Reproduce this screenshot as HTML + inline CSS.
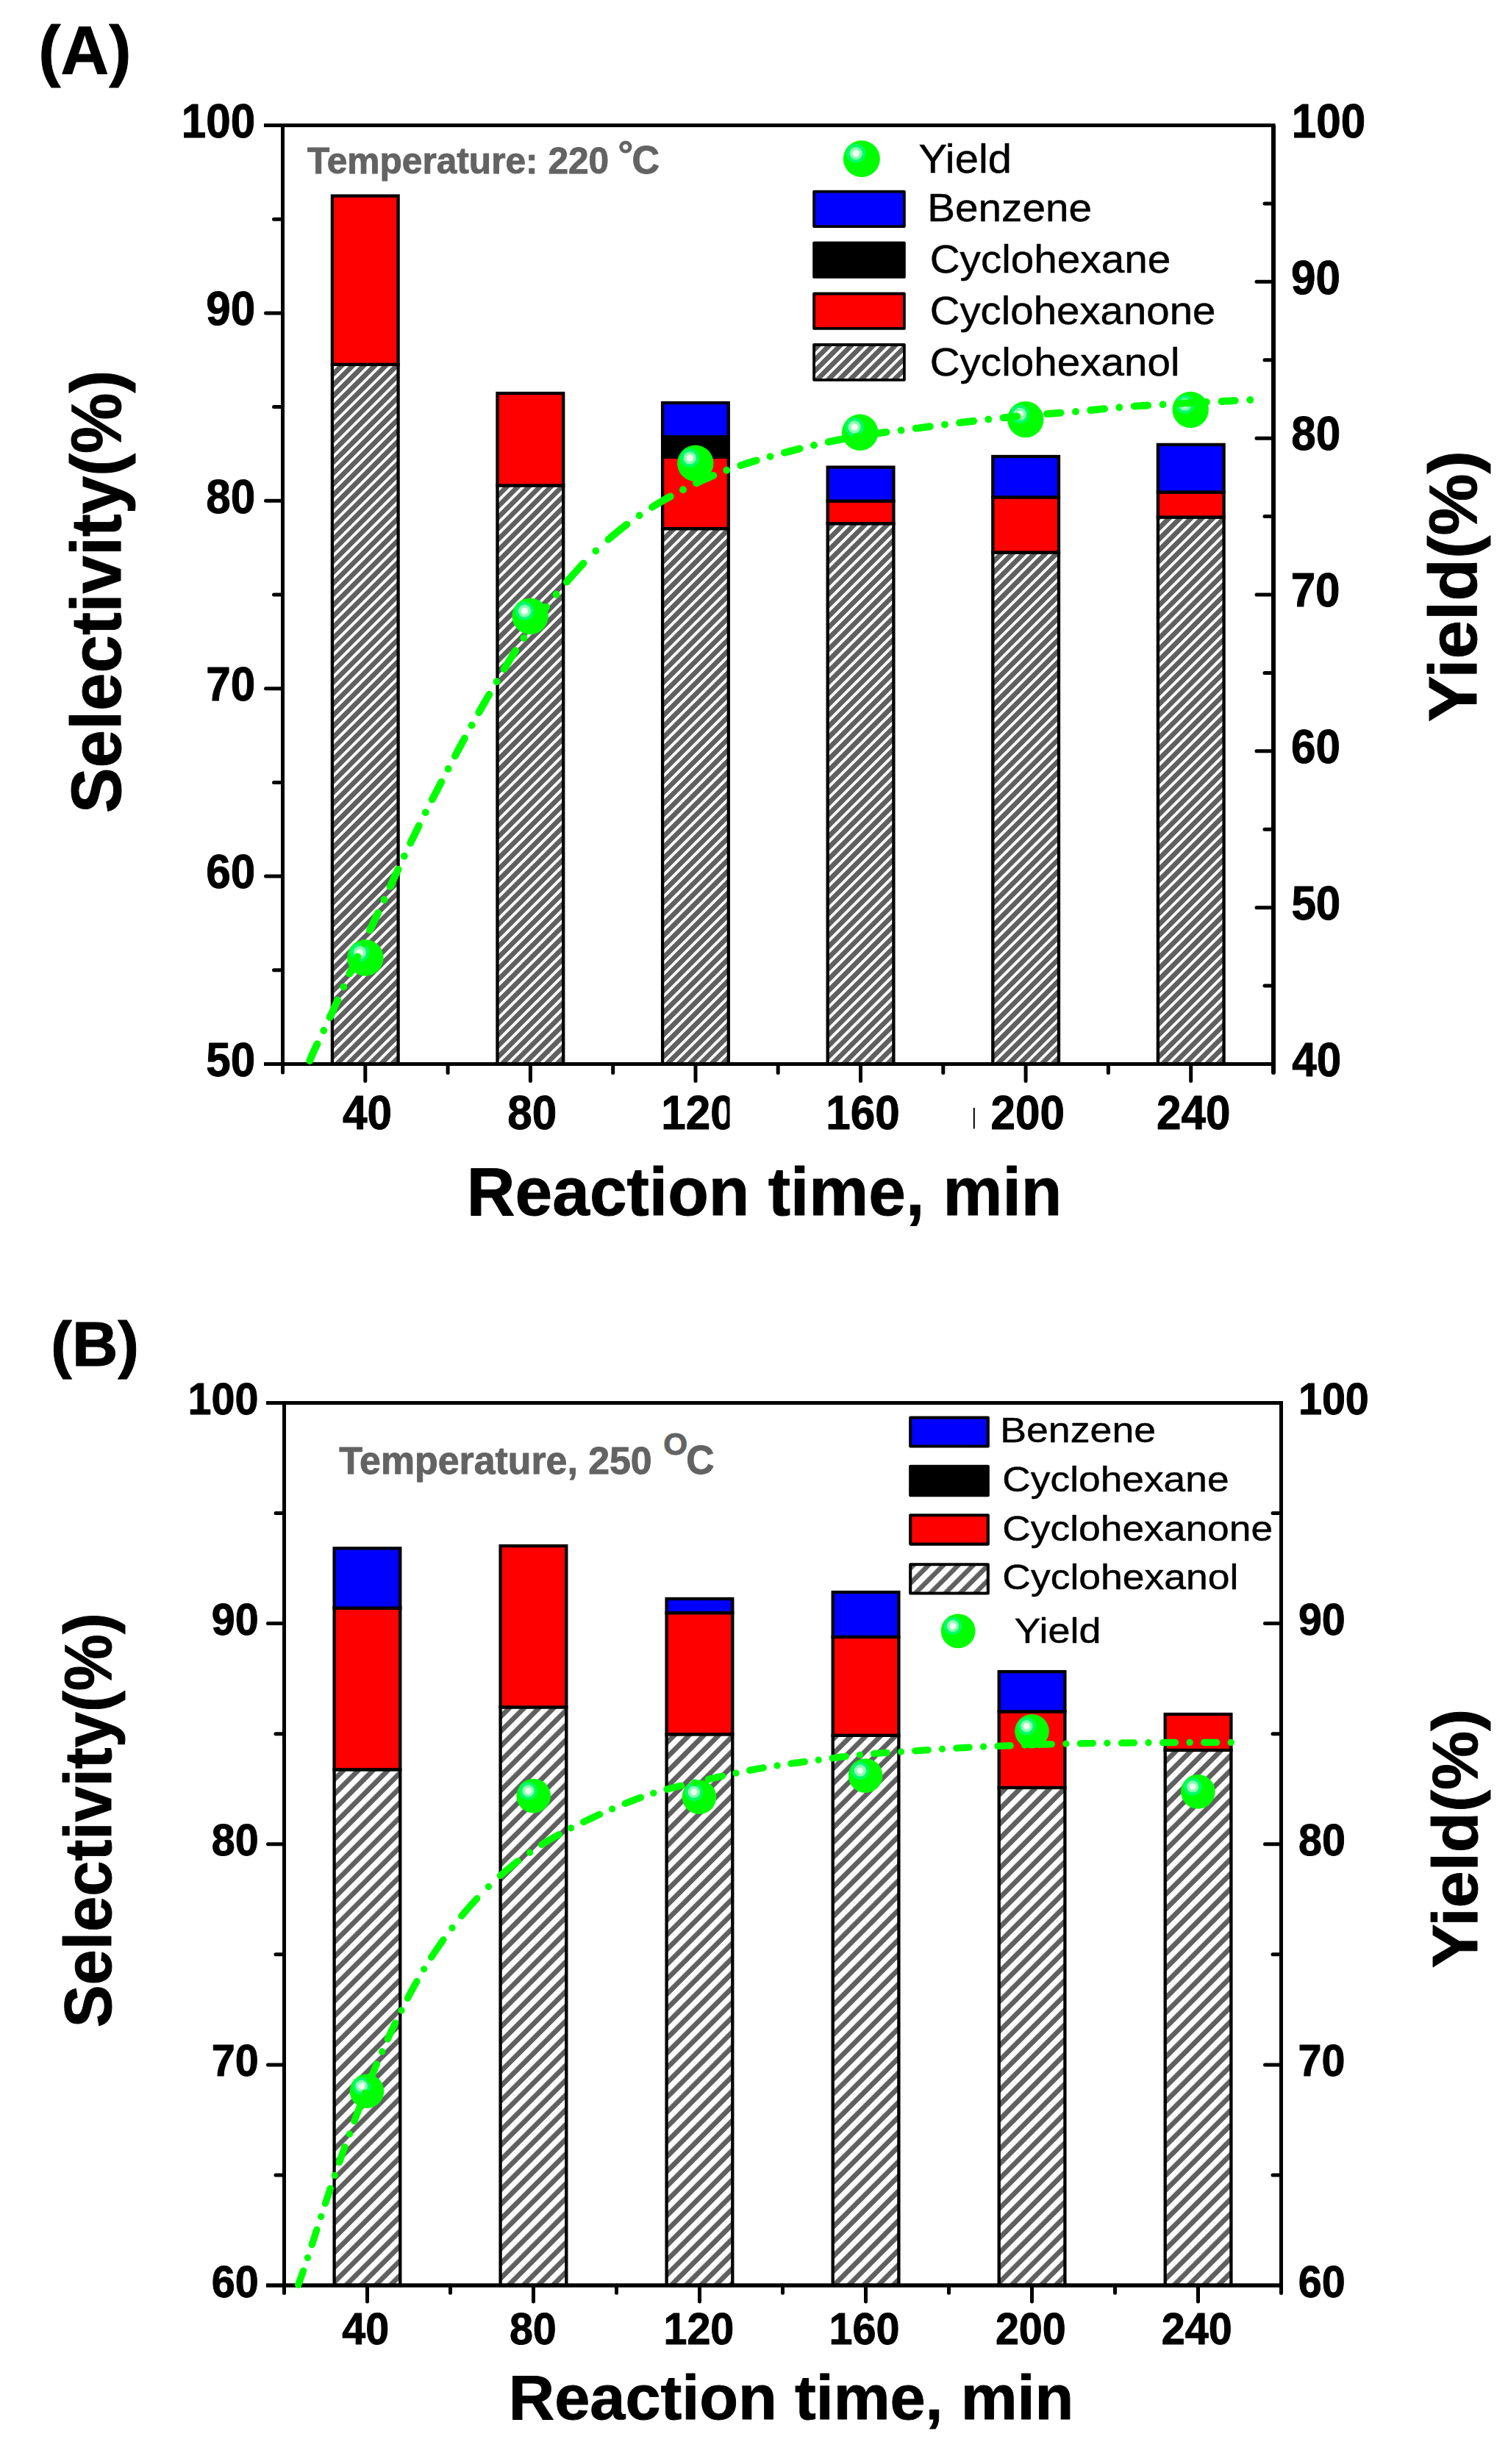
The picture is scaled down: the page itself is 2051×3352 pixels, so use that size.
<!DOCTYPE html>
<html><head><meta charset="utf-8"><title>Selectivity and yield vs reaction time</title>
<style>html,body{margin:0;padding:0;background:#fff}svg{display:block}</style></head>
<body>
<svg width="2051" height="3352" viewBox="0 0 2051 3352" font-family="Liberation Sans, Arial, sans-serif">
<rect width="2051" height="3352" fill="#fff"/>
<defs>
<pattern id="hatchA" patternUnits="userSpaceOnUse" width="10.589" height="10.589" patternTransform="translate(8.5,0) rotate(-45)"><rect width="10.589" height="10.589" fill="#606060"/><rect y="0" width="10.589" height="3.812" fill="#fff"/></pattern>
<pattern id="hatchB" patternUnits="userSpaceOnUse" width="14.220" height="14.220" patternTransform="translate(4.55,0) rotate(-45)"><rect width="14.220" height="14.220" fill="#606060"/><rect y="0" width="14.220" height="7.394" fill="#fff"/></pattern>
<pattern id="hatchAL" patternUnits="userSpaceOnUse" width="10.589" height="10.589" patternTransform="translate(0.3,0) rotate(-45)"><rect width="10.589" height="10.589" fill="#606060"/><rect y="0" width="10.589" height="3.812" fill="#fff"/></pattern>
<pattern id="hatchBL" patternUnits="userSpaceOnUse" width="14.354" height="14.354" patternTransform="translate(6.57,0) rotate(-45)"><rect width="14.354" height="14.354" fill="#606060"/><rect y="0" width="14.354" height="7.895" fill="#fff"/></pattern>
</defs>
<clipPath id="clipA"><rect x="384.5" y="170.5" width="1347.5" height="1277.0"/></clipPath>
<rect x="451.9" y="495.9" width="89.7" height="951.6" fill="#fff"/>
<rect x="451.9" y="495.9" width="89.7" height="951.6" fill="url(#hatchA)" stroke="#000" stroke-width="4.3" stroke-linejoin="miter"/>
<rect x="451.9" y="266.5" width="89.7" height="229.3" fill="#ff0000" stroke="#000" stroke-width="4.3" stroke-linejoin="miter"/>
<rect x="676.5" y="660.4" width="89.7" height="787.1" fill="#fff"/>
<rect x="676.5" y="660.4" width="89.7" height="787.1" fill="url(#hatchA)" stroke="#000" stroke-width="4.3" stroke-linejoin="miter"/>
<rect x="676.5" y="535.0" width="89.7" height="125.4" fill="#ff0000" stroke="#000" stroke-width="4.3" stroke-linejoin="miter"/>
<rect x="901.1" y="719.1" width="89.7" height="728.4" fill="#fff"/>
<rect x="901.1" y="719.1" width="89.7" height="728.4" fill="url(#hatchA)" stroke="#000" stroke-width="4.3" stroke-linejoin="miter"/>
<rect x="901.1" y="621.8" width="89.7" height="97.3" fill="#ff0000" stroke="#000" stroke-width="4.3" stroke-linejoin="miter"/>
<rect x="901.1" y="594.2" width="89.7" height="27.6" fill="#000000" stroke="#000" stroke-width="4.3" stroke-linejoin="miter"/>
<rect x="901.1" y="548.0" width="89.7" height="46.2" fill="#0000ff" stroke="#000" stroke-width="4.3" stroke-linejoin="miter"/>
<rect x="1125.7" y="712.2" width="89.7" height="735.3" fill="#fff"/>
<rect x="1125.7" y="712.2" width="89.7" height="735.3" fill="url(#hatchA)" stroke="#000" stroke-width="4.3" stroke-linejoin="miter"/>
<rect x="1125.7" y="681.6" width="89.7" height="30.6" fill="#ff0000" stroke="#000" stroke-width="4.3" stroke-linejoin="miter"/>
<rect x="1125.7" y="635.6" width="89.7" height="46.0" fill="#0000ff" stroke="#000" stroke-width="4.3" stroke-linejoin="miter"/>
<rect x="1350.3" y="751.5" width="89.7" height="696.0" fill="#fff"/>
<rect x="1350.3" y="751.5" width="89.7" height="696.0" fill="url(#hatchA)" stroke="#000" stroke-width="4.3" stroke-linejoin="miter"/>
<rect x="1350.3" y="676.4" width="89.7" height="75.1" fill="#ff0000" stroke="#000" stroke-width="4.3" stroke-linejoin="miter"/>
<rect x="1350.3" y="621.0" width="89.7" height="55.4" fill="#0000ff" stroke="#000" stroke-width="4.3" stroke-linejoin="miter"/>
<rect x="1574.9" y="703.5" width="89.7" height="744.0" fill="#fff"/>
<rect x="1574.9" y="703.5" width="89.7" height="744.0" fill="url(#hatchA)" stroke="#000" stroke-width="4.3" stroke-linejoin="miter"/>
<rect x="1574.9" y="669.6" width="89.7" height="34.0" fill="#ff0000" stroke="#000" stroke-width="4.3" stroke-linejoin="miter"/>
<rect x="1574.9" y="604.9" width="89.7" height="64.6" fill="#0000ff" stroke="#000" stroke-width="4.3" stroke-linejoin="miter"/>
<g stroke="#000" stroke-width="5" stroke-linecap="butt" fill="none">
<path d="M359.0 170.5H1734.5"/>
<path d="M359.0 1447.5H1734.5" stroke-width="5"/>
</g>
<path d="M384.5 170.5V1447.5" stroke="#000" stroke-width="5" fill="none"/>
<path d="M384.5 1447.5V1459.0" stroke="#000" stroke-width="5" stroke-linecap="round" fill="none"/>
<path d="M1732 170.5V1447.5" stroke="#000" stroke-width="6" fill="none"/>
<path d="M1732 1447.5V1459.0" stroke="#000" stroke-width="6" stroke-linecap="round" fill="none"/>
<g stroke="#000" stroke-width="5" stroke-linecap="round" fill="none">
<path d="M372.5 1319.8H384.5"/>
<path d="M361.5 1192.1H384.5"/>
<path d="M372.5 1064.4H384.5"/>
<path d="M361.5 936.7H384.5"/>
<path d="M372.5 809.0H384.5"/>
<path d="M361.5 681.3H384.5"/>
<path d="M372.5 553.6H384.5"/>
<path d="M361.5 425.9H384.5"/>
<path d="M372.5 298.2H384.5"/>
<path d="M1720.0 1341.1H1732.0"/>
<path d="M1709.0 1234.7H1732.0"/>
<path d="M1720.0 1128.2H1732.0"/>
<path d="M1709.0 1021.8H1732.0"/>
<path d="M1720.0 915.4H1732.0"/>
<path d="M1709.0 809.0H1732.0"/>
<path d="M1720.0 702.6H1732.0"/>
<path d="M1709.0 596.2H1732.0"/>
<path d="M1720.0 489.8H1732.0"/>
<path d="M1709.0 383.3H1732.0"/>
<path d="M1720.0 276.9H1732.0"/>
<path d="M496.8 1447.5V1470.5"/>
<path d="M609.1 1447.5V1459.5"/>
<path d="M721.4 1447.5V1470.5"/>
<path d="M833.7 1447.5V1459.5"/>
<path d="M946.0 1447.5V1470.5"/>
<path d="M1058.2 1447.5V1459.5"/>
<path d="M1170.5 1447.5V1470.5"/>
<path d="M1282.8 1447.5V1459.5"/>
<path d="M1395.1 1447.5V1470.5"/>
<path d="M1507.4 1447.5V1459.5"/>
<path d="M1619.7 1447.5V1470.5"/>
</g>
<circle cx="496.9" cy="1303.0" r="24.7" fill="#00ff00"/>
<circle cx="489.3" cy="1295.7" r="12.9" fill="#00ff66"/>
<circle cx="489.3" cy="1295.7" r="8.6" fill="#8cffb4"/>
<circle cx="489.3" cy="1295.7" r="4.6" fill="#f4fff4"/>
<circle cx="721.1" cy="838.4" r="24.7" fill="#00ff00"/>
<circle cx="713.5" cy="831.1" r="12.9" fill="#00ff66"/>
<circle cx="713.5" cy="831.1" r="8.6" fill="#8cffb4"/>
<circle cx="713.5" cy="831.1" r="4.6" fill="#f4fff4"/>
<circle cx="945.8" cy="630.3" r="24.7" fill="#00ff00"/>
<circle cx="938.2" cy="623.0" r="12.9" fill="#00ff66"/>
<circle cx="938.2" cy="623.0" r="8.6" fill="#8cffb4"/>
<circle cx="938.2" cy="623.0" r="4.6" fill="#f4fff4"/>
<circle cx="1169.7" cy="588.2" r="24.7" fill="#00ff00"/>
<circle cx="1162.1" cy="580.9" r="12.9" fill="#00ff66"/>
<circle cx="1162.1" cy="580.9" r="8.6" fill="#8cffb4"/>
<circle cx="1162.1" cy="580.9" r="4.6" fill="#f4fff4"/>
<circle cx="1394.8" cy="570.6" r="24.7" fill="#00ff00"/>
<circle cx="1387.2" cy="563.3" r="12.9" fill="#00ff66"/>
<circle cx="1387.2" cy="563.3" r="8.6" fill="#8cffb4"/>
<circle cx="1387.2" cy="563.3" r="4.6" fill="#f4fff4"/>
<circle cx="1619.2" cy="557.5" r="24.7" fill="#00ff00"/>
<circle cx="1611.6" cy="550.2" r="12.9" fill="#00ff66"/>
<circle cx="1611.6" cy="550.2" r="8.6" fill="#8cffb4"/>
<circle cx="1611.6" cy="550.2" r="4.6" fill="#f4fff4"/>
<path d="M421.3 1443.0 L422.5 1440.0 L423.8 1436.8 L425.2 1433.7 L426.6 1430.5 L428.1 1427.3 L429.5 1424.2 L431.0 1421.1 L431.5 1420.1M440.2 1402.0l0.01 0M448.7 1383.9 L450.1 1380.8 L451.5 1377.7 L453.0 1374.5 L454.4 1371.3 L455.8 1368.2 L457.3 1365.0 L458.7 1361.9 L459.2 1360.7M467.3 1342.6l0.01 0M475.5 1324.6 L476.9 1321.5 L478.4 1318.4 L479.8 1315.2 L481.3 1312.1 L482.7 1308.9 L484.2 1305.8 L485.6 1302.6 L486.2 1301.4M494.7 1283.3l0.01 0M503.1 1265.3 L504.5 1262.3 L506.0 1259.2 L507.5 1256.0 L509.0 1252.9 L510.5 1249.8 L511.9 1246.6 L513.4 1243.5 L514.1 1242.0M522.5 1224.0l0.01 0M530.8 1205.9 L532.2 1202.8 L533.7 1199.7 L535.1 1196.5 L536.6 1193.4 L538.0 1190.2 L539.5 1187.0 L540.9 1183.9 L541.5 1182.7M549.8 1164.7l0.01 0M558.3 1146.8 L559.7 1143.9 L561.3 1140.7 L562.8 1137.6 L564.3 1134.5 L565.8 1131.4 L567.3 1128.3 L568.9 1125.1 L569.8 1123.2M578.8 1105.3l0.01 0M587.8 1087.6 L589.4 1084.6 L591.0 1081.6 L592.6 1078.5 L594.2 1075.4 L595.8 1072.3 L597.4 1069.2 L599.0 1066.2 L600.3 1063.7M609.6 1046.0l0.01 0M618.9 1028.4 L620.5 1025.5 L622.1 1022.5 L623.7 1019.4 L625.4 1016.3 L627.0 1013.3 L628.6 1010.2 L630.3 1007.2 L631.9 1004.3M641.5 986.7l0.01 0M651.3 969.3 L652.9 966.5 L654.6 963.5 L656.3 960.4 L658.0 957.4 L659.8 954.4 L661.5 951.4 L663.3 948.4 L665.0 945.4 L665.4 944.7M675.6 927.3l0.01 0M685.8 910.2 L687.5 907.3 L689.3 904.3 L691.1 901.4 L692.9 898.4 L694.7 895.5 L696.6 892.5 L698.4 889.6 L700.2 886.6 L701.2 885.1M712.4 868.0l0.01 0M724.2 850.9 L726.1 848.3 L728.2 845.5 L730.2 842.7 L732.3 839.9 L734.4 837.1 L736.4 834.4 L738.6 831.6 L740.7 828.8 L742.8 826.1 L743.1 825.8M756.6 808.7l0.01 0M770.9 791.6 L773.0 789.1 L775.3 786.5 L777.6 783.9 L779.9 781.3 L782.2 778.7 L784.5 776.1 L786.9 773.6 L789.2 771.0 L791.6 768.5 L793.5 766.4M810.3 749.5l0.01 0M827.4 733.9 L830.0 731.6 L832.6 729.4 L835.3 727.2 L838.0 724.9 L840.7 722.7 L843.4 720.6 L846.1 718.4 L848.9 716.3 L851.6 714.2 L852.6 713.5M869.7 701.2l0.01 0M887.0 689.9 L889.9 688.1 L892.8 686.3 L895.8 684.5 L898.8 682.8 L901.8 681.0 L904.8 679.3 L907.8 677.6 L910.9 675.9 L911.7 675.4M929.0 666.2l0.01 0M947.1 657.2 L950.0 655.8 L953.2 654.4 L956.3 652.9 L959.5 651.5 L962.7 650.1 L965.8 648.7 L969.0 647.4 L970.2 646.9M988.3 639.7l0.01 0M1007.3 633.1 L1010.5 632.1 L1013.8 631.0 L1017.1 630.0 L1020.5 629.0 L1023.8 627.9 L1027.1 627.0 L1028.7 626.5M1047.6 621.1l0.01 0M1066.9 615.8 L1070.0 615.0 L1073.4 614.1 L1076.7 613.2 L1080.1 612.4 L1083.5 611.5 L1086.8 610.6 L1087.7 610.4M1107.0 605.7l0.01 0M1126.6 601.3 L1129.9 600.5 L1133.3 599.8 L1136.7 599.1 L1140.1 598.4 L1143.5 597.8 L1146.7 597.1M1166.3 593.6l0.01 0M1186.3 590.6 L1189.7 590.1 L1193.1 589.6 L1196.6 589.1 L1200.0 588.7 L1203.5 588.2 L1205.6 587.9M1225.6 585.4l0.01 0M1245.6 582.7 L1249.1 582.3 L1252.5 581.8 L1255.9 581.4 L1259.4 580.9 L1262.8 580.5 L1264.9 580.2M1285.0 577.6l0.01 0M1305.1 575.1 L1308.4 574.7 L1311.9 574.2 L1315.3 573.8 L1318.8 573.4 L1322.2 573.0 L1324.2 572.8M1344.3 570.5l0.01 0M1364.5 568.4 L1367.9 568.0 L1371.4 567.7 L1374.8 567.4 L1378.3 567.0 L1381.7 566.7 L1383.4 566.5M1403.6 564.7l0.01 0M1424.0 563.1 L1427.2 562.8 L1430.7 562.6 L1434.2 562.3 L1437.6 562.0 L1441.1 561.8 L1442.6 561.6M1463.0 559.9l0.01 0M1483.2 558.0 L1486.6 557.6 L1490.0 557.3 L1493.5 556.9 L1496.9 556.6 L1500.4 556.2 L1502.1 556.1M1522.3 554.2l0.01 0M1542.7 552.6 L1545.9 552.4 L1549.4 552.2 L1552.8 551.9 L1556.3 551.7 L1559.8 551.5 L1561.2 551.4M1581.6 550.2l0.01 0M1602.1 549.0 L1605.4 548.8 L1608.8 548.6 L1612.3 548.4 L1615.8 548.2 L1619.2 548.1 L1620.5 548.0M1640.9 547.0l0.01 0M1661.5 546.0 L1664.9 545.8 L1668.3 545.6 L1671.8 545.5 L1675.3 545.3 L1678.7 545.1 L1679.8 545.1M1700.3 544.0l0.01 0" fill="none" stroke="#00ff00" stroke-width="9.9" stroke-linecap="round" stroke-linejoin="round"/>
<text transform="translate(280.29,1463.70) scale(1,1.0700)" font-size="60.20" font-weight="bold" text-anchor="start" fill="#000" stroke="#000" stroke-width="0.9" stroke-linejoin="round" >50</text>
<text transform="translate(280.29,1208.30) scale(1,1.0700)" font-size="60.20" font-weight="bold" text-anchor="start" fill="#000" stroke="#000" stroke-width="0.9" stroke-linejoin="round" >60</text>
<text transform="translate(280.29,952.90) scale(1,1.0700)" font-size="60.20" font-weight="bold" text-anchor="start" fill="#000" stroke="#000" stroke-width="0.9" stroke-linejoin="round" >70</text>
<text transform="translate(280.29,697.50) scale(1,1.0700)" font-size="60.20" font-weight="bold" text-anchor="start" fill="#000" stroke="#000" stroke-width="0.9" stroke-linejoin="round" >80</text>
<text transform="translate(280.29,442.10) scale(1,1.0700)" font-size="60.20" font-weight="bold" text-anchor="start" fill="#000" stroke="#000" stroke-width="0.9" stroke-linejoin="round" >90</text>
<text transform="translate(246.72,186.70) scale(1,1.0700)" font-size="60.20" font-weight="bold" text-anchor="start" fill="#000" stroke="#000" stroke-width="0.9" stroke-linejoin="round" >100</text>
<text transform="translate(1757.30,1463.70) scale(1,1.0700)" font-size="60.20" font-weight="bold" text-anchor="start" fill="#000" stroke="#000" stroke-width="0.9" stroke-linejoin="round" >40</text>
<text transform="translate(1756.39,1250.87) scale(1,1.0700)" font-size="60.20" font-weight="bold" text-anchor="start" fill="#000" stroke="#000" stroke-width="0.9" stroke-linejoin="round" >50</text>
<text transform="translate(1755.94,1038.03) scale(1,1.0700)" font-size="60.20" font-weight="bold" text-anchor="start" fill="#000" stroke="#000" stroke-width="0.9" stroke-linejoin="round" >60</text>
<text transform="translate(1755.64,825.20) scale(1,1.0700)" font-size="60.20" font-weight="bold" text-anchor="start" fill="#000" stroke="#000" stroke-width="0.9" stroke-linejoin="round" >70</text>
<text transform="translate(1756.24,612.37) scale(1,1.0700)" font-size="60.20" font-weight="bold" text-anchor="start" fill="#000" stroke="#000" stroke-width="0.9" stroke-linejoin="round" >80</text>
<text transform="translate(1756.09,399.53) scale(1,1.0700)" font-size="60.20" font-weight="bold" text-anchor="start" fill="#000" stroke="#000" stroke-width="0.9" stroke-linejoin="round" >90</text>
<text transform="translate(1756.74,186.70) scale(1,1.0700)" font-size="60.20" font-weight="bold" text-anchor="start" fill="#000" stroke="#000" stroke-width="0.9" stroke-linejoin="round" >100</text>
<text transform="translate(466.09,1536.06) scale(1,1.0700)" font-size="60.20" font-weight="bold" text-anchor="start" fill="#000" stroke="#000" stroke-width="0.9" stroke-linejoin="round" >40</text>
<text transform="translate(690.31,1536.06) scale(1,1.0700)" font-size="60.20" font-weight="bold" text-anchor="start" fill="#000" stroke="#000" stroke-width="0.9" stroke-linejoin="round" >80</text>
<text transform="translate(1123.33,1536.06) scale(1,1.0700)" font-size="60.20" font-weight="bold" text-anchor="start" fill="#000" stroke="#000" stroke-width="0.9" stroke-linejoin="round" >160</text>
<text transform="translate(1347.56,1536.06) scale(1,1.0700)" font-size="60.20" font-weight="bold" text-anchor="start" fill="#000" stroke="#000" stroke-width="0.9" stroke-linejoin="round" >200</text>
<text transform="translate(1572.96,1536.06) scale(1,1.0700)" font-size="60.20" font-weight="bold" text-anchor="start" fill="#000" stroke="#000" stroke-width="0.9" stroke-linejoin="round" >240</text>
<clipPath id="c120"><rect x="880" y="1470" width="112.5" height="90"/></clipPath>
<g clip-path="url(#c120)">
<text transform="translate(899.24,1536.06) scale(1,1.0700)" font-size="60.20" font-weight="bold" text-anchor="start" fill="#000" stroke="#000" stroke-width="0.9" stroke-linejoin="round" >120</text>
</g>
<rect x="1323.8" y="1507" width="2" height="28.5" fill="#000"/>
<text transform="translate(634.85,1652.90) scale(1,1.0151)" font-size="91.07" font-weight="bold" fill="#000" stroke="#000" stroke-width="0.9" stroke-linejoin="round" >Reaction time, min</text>
<text transform="translate(163.70,1106.18) rotate(-90) scale(1,1.0335)" font-size="92.67" font-weight="bold" fill="#000" stroke="#000" stroke-width="0.9" stroke-linejoin="round" >Selectivity(%)</text>
<text transform="translate(2008.00,982.25) rotate(-90) scale(1,0.9844)" font-size="94.48" font-weight="bold" fill="#000" stroke="#000" stroke-width="0.9" stroke-linejoin="round" >Yield(%)</text>
<text transform="translate(52.36,99.50) scale(1,1.0110)" font-size="90.87" font-weight="bold" fill="#000" stroke="#000" stroke-width="0.9" stroke-linejoin="round" >(A)</text>
<text transform="translate(418.10,235.70) scale(1,1.0178)" font-size="49.64" font-weight="bold" fill="#636363" stroke="#636363" stroke-width="0.9" stroke-linejoin="round" >Temperature: 220</text>
<text transform="translate(840.47,227.51) scale(1,1.0163)" font-size="51.84" font-weight="bold" fill="#636363" stroke="#636363" stroke-width="0.9" stroke-linejoin="round" >°</text>
<text transform="translate(859.52,235.70) scale(1,1.0162)" font-size="52.06" font-weight="bold" fill="#636363" stroke="#636363" stroke-width="0.9" stroke-linejoin="round" >C</text>
<circle cx="1171.9" cy="216.0" r="25.0" fill="#00ff00"/>
<circle cx="1164.2" cy="208.6" r="13.1" fill="#00ff66"/>
<circle cx="1164.2" cy="208.6" r="8.7" fill="#8cffb4"/>
<circle cx="1164.2" cy="208.6" r="4.7" fill="#f4fff4"/>
<text transform="translate(1249.40,234.80) scale(1,0.9445)" font-size="57.90" font-weight="normal" fill="#000" stroke="#000" stroke-width="0.5" stroke-linejoin="round" >Yield</text>
<rect x="1107.1" y="260.7" width="122.8" height="47.4" fill="#fff"/>
<rect x="1107.1" y="260.7" width="122.8" height="47.4" fill="#0000ff" stroke="#000" stroke-width="3.8" stroke-linejoin="round"/>
<text transform="translate(1261.33,301.30) scale(1,0.9456)" font-size="56.66" font-weight="normal" fill="#000" stroke="#000" stroke-width="0.5" stroke-linejoin="round" >Benzene</text>
<rect x="1107.1" y="330.3" width="122.8" height="46.6" fill="#fff"/>
<rect x="1107.1" y="330.3" width="122.8" height="46.6" fill="#000" stroke="#000" stroke-width="3.8" stroke-linejoin="round"/>
<text transform="translate(1264.67,371.30) scale(1,0.9455)" font-size="56.67" font-weight="normal" fill="#000" stroke="#000" stroke-width="0.5" stroke-linejoin="round" >Cyclohexane</text>
<rect x="1107.1" y="399.5" width="122.8" height="47.4" fill="#fff"/>
<rect x="1107.1" y="399.5" width="122.8" height="47.4" fill="#ff0000" stroke="#000" stroke-width="3.8" stroke-linejoin="round"/>
<text transform="translate(1264.68,440.50) scale(1,0.9500)" font-size="56.40" font-weight="normal" fill="#000" stroke="#000" stroke-width="0.5" stroke-linejoin="round" >Cyclohexanone</text>
<rect x="1107.1" y="469.0" width="122.8" height="47.8" fill="#fff"/>
<rect x="1107.1" y="469.0" width="122.8" height="47.8" fill="url(#hatchAL)" stroke="#000" stroke-width="3.8" stroke-linejoin="round"/>
<text transform="translate(1264.67,510.50) scale(1,0.9465)" font-size="56.61" font-weight="normal" fill="#000" stroke="#000" stroke-width="0.5" stroke-linejoin="round" >Cyclohexanol</text>
<clipPath id="clipB"><rect x="386.5" y="1908.5" width="1356.0" height="1200.5"/></clipPath>
<rect x="454.6" y="2407.3" width="89.7" height="701.7" fill="#fff"/>
<rect x="454.6" y="2407.3" width="89.7" height="701.7" fill="url(#hatchB)" stroke="#000" stroke-width="4.3" stroke-linejoin="miter"/>
<rect x="454.6" y="2187.6" width="89.7" height="219.7" fill="#ff0000" stroke="#000" stroke-width="4.3" stroke-linejoin="miter"/>
<rect x="454.6" y="2106.3" width="89.7" height="81.3" fill="#0000ff" stroke="#000" stroke-width="4.3" stroke-linejoin="miter"/>
<rect x="680.6" y="2322.4" width="89.7" height="786.6" fill="#fff"/>
<rect x="680.6" y="2322.4" width="89.7" height="786.6" fill="url(#hatchB)" stroke="#000" stroke-width="4.3" stroke-linejoin="miter"/>
<rect x="680.6" y="2103.0" width="89.7" height="219.4" fill="#ff0000" stroke="#000" stroke-width="4.3" stroke-linejoin="miter"/>
<rect x="906.6" y="2359.3" width="89.7" height="749.7" fill="#fff"/>
<rect x="906.6" y="2359.3" width="89.7" height="749.7" fill="url(#hatchB)" stroke="#000" stroke-width="4.3" stroke-linejoin="miter"/>
<rect x="906.6" y="2194.1" width="89.7" height="165.2" fill="#ff0000" stroke="#000" stroke-width="4.3" stroke-linejoin="miter"/>
<rect x="906.6" y="2175.0" width="89.7" height="19.1" fill="#0000ff" stroke="#000" stroke-width="4.3" stroke-linejoin="miter"/>
<rect x="1132.7" y="2360.8" width="89.7" height="748.2" fill="#fff"/>
<rect x="1132.7" y="2360.8" width="89.7" height="748.2" fill="url(#hatchB)" stroke="#000" stroke-width="4.3" stroke-linejoin="miter"/>
<rect x="1132.7" y="2226.9" width="89.7" height="133.9" fill="#ff0000" stroke="#000" stroke-width="4.3" stroke-linejoin="miter"/>
<rect x="1132.7" y="2166.0" width="89.7" height="60.9" fill="#0000ff" stroke="#000" stroke-width="4.3" stroke-linejoin="miter"/>
<rect x="1358.7" y="2431.9" width="89.7" height="677.1" fill="#fff"/>
<rect x="1358.7" y="2431.9" width="89.7" height="677.1" fill="url(#hatchB)" stroke="#000" stroke-width="4.3" stroke-linejoin="miter"/>
<rect x="1358.7" y="2328.4" width="89.7" height="103.5" fill="#ff0000" stroke="#000" stroke-width="4.3" stroke-linejoin="miter"/>
<rect x="1358.7" y="2274.1" width="89.7" height="54.3" fill="#0000ff" stroke="#000" stroke-width="4.3" stroke-linejoin="miter"/>
<rect x="1584.7" y="2380.9" width="89.7" height="728.1" fill="#fff"/>
<rect x="1584.7" y="2380.9" width="89.7" height="728.1" fill="url(#hatchB)" stroke="#000" stroke-width="4.3" stroke-linejoin="miter"/>
<rect x="1584.7" y="2332.0" width="89.7" height="48.9" fill="#ff0000" stroke="#000" stroke-width="4.3" stroke-linejoin="miter"/>
<g stroke="#000" stroke-width="5" stroke-linecap="butt" fill="none">
<path d="M362.0 1908.5H1745.0"/>
<path d="M362.0 3109H1745.0" stroke-width="5.6"/>
</g>
<path d="M386.5 1908.5V3109" stroke="#000" stroke-width="5" fill="none"/>
<path d="M386.5 3109V3119.4" stroke="#000" stroke-width="5" stroke-linecap="round" fill="none"/>
<path d="M1742.5 1908.5V3109" stroke="#000" stroke-width="5" fill="none"/>
<path d="M1742.5 3109V3119.4" stroke="#000" stroke-width="5" stroke-linecap="round" fill="none"/>
<g stroke="#000" stroke-width="5" stroke-linecap="round" fill="none">
<path d="M375.0 2958.9H386.5"/>
<path d="M364.5 2808.9H386.5"/>
<path d="M375.0 2658.8H386.5"/>
<path d="M364.5 2508.8H386.5"/>
<path d="M375.0 2358.7H386.5"/>
<path d="M364.5 2208.6H386.5"/>
<path d="M375.0 2058.6H386.5"/>
<path d="M1731.0 2958.9H1742.5"/>
<path d="M1720.5 2808.9H1742.5"/>
<path d="M1731.0 2658.8H1742.5"/>
<path d="M1720.5 2508.8H1742.5"/>
<path d="M1731.0 2358.7H1742.5"/>
<path d="M1720.5 2208.6H1742.5"/>
<path d="M1731.0 2058.6H1742.5"/>
<path d="M499.5 3109V3131.0"/>
<path d="M612.5 3109V3119.3"/>
<path d="M725.5 3109V3131.0"/>
<path d="M838.5 3109V3119.3"/>
<path d="M951.5 3109V3131.0"/>
<path d="M1064.5 3109V3119.3"/>
<path d="M1177.5 3109V3131.0"/>
<path d="M1290.5 3109V3119.3"/>
<path d="M1403.5 3109V3131.0"/>
<path d="M1516.5 3109V3119.3"/>
<path d="M1629.5 3109V3131.0"/>
</g>
<circle cx="499.0" cy="2844.8" r="23.3" fill="#00ff00"/>
<circle cx="491.8" cy="2837.9" r="12.2" fill="#00ff66"/>
<circle cx="491.8" cy="2837.9" r="8.1" fill="#8cffb4"/>
<circle cx="491.8" cy="2837.9" r="4.3" fill="#f4fff4"/>
<circle cx="725.7" cy="2443.1" r="23.3" fill="#00ff00"/>
<circle cx="718.5" cy="2436.2" r="12.2" fill="#00ff66"/>
<circle cx="718.5" cy="2436.2" r="8.1" fill="#8cffb4"/>
<circle cx="718.5" cy="2436.2" r="4.3" fill="#f4fff4"/>
<circle cx="951.0" cy="2444.7" r="23.3" fill="#00ff00"/>
<circle cx="943.8" cy="2437.8" r="12.2" fill="#00ff66"/>
<circle cx="943.8" cy="2437.8" r="8.1" fill="#8cffb4"/>
<circle cx="943.8" cy="2437.8" r="4.3" fill="#f4fff4"/>
<circle cx="1177.1" cy="2415.6" r="23.3" fill="#00ff00"/>
<circle cx="1169.9" cy="2408.7" r="12.2" fill="#00ff66"/>
<circle cx="1169.9" cy="2408.7" r="8.1" fill="#8cffb4"/>
<circle cx="1169.9" cy="2408.7" r="4.3" fill="#f4fff4"/>
<circle cx="1403.5" cy="2355.2" r="23.3" fill="#00ff00"/>
<circle cx="1396.3" cy="2348.3" r="12.2" fill="#00ff66"/>
<circle cx="1396.3" cy="2348.3" r="8.1" fill="#8cffb4"/>
<circle cx="1396.3" cy="2348.3" r="4.3" fill="#f4fff4"/>
<circle cx="1629.4" cy="2437.4" r="23.3" fill="#00ff00"/>
<circle cx="1622.2" cy="2430.5" r="12.2" fill="#00ff66"/>
<circle cx="1622.2" cy="2430.5" r="8.1" fill="#8cffb4"/>
<circle cx="1622.2" cy="2430.5" r="4.3" fill="#f4fff4"/>
<path d="M405.7 3108.2 L406.7 3105.3 L407.9 3102.2 L409.0 3099.1 L410.1 3095.9 L411.2 3092.8 L412.3 3089.7 L412.5 3089.1M418.4 3071.5l0.01 0M424.3 3053.6 L425.3 3050.5 L426.3 3047.3 L427.3 3044.2 L428.4 3041.0 L429.4 3037.9 L430.4 3034.7 L430.9 3033.2M436.7 3015.4l0.01 0M442.5 2997.6 L443.5 2994.7 L444.5 2991.5 L445.5 2988.4 L446.6 2985.2 L447.6 2982.0 L448.7 2978.9 L449.3 2977.1M455.3 2959.3l0.01 0M461.5 2941.6 L462.6 2938.6 L463.7 2935.4 L464.8 2932.3 L465.9 2929.2 L467.0 2926.0 L468.2 2922.9 L468.9 2920.8M475.4 2903.2l0.01 0M481.9 2885.6 L483.0 2882.6 L484.2 2879.5 L485.3 2876.4 L486.5 2873.3 L487.7 2870.2 L488.9 2867.1 L489.8 2864.6M496.6 2847.1l0.01 0M503.5 2829.7 L504.6 2826.8 L505.9 2823.8 L507.1 2820.7 L508.4 2817.6 L509.7 2814.5 L510.9 2811.5 L512.2 2808.4 L512.3 2808.3M519.7 2791.0l0.01 0M527.3 2774.0 L528.6 2771.1 L530.0 2768.1 L531.4 2765.1 L532.8 2762.1 L534.2 2759.1 L535.7 2756.1 L537.1 2753.1 L537.7 2751.9M546.0 2734.9l0.01 0M554.5 2718.3 L556.0 2715.4 L557.5 2712.5 L559.1 2709.6 L560.7 2706.7 L562.3 2703.7 L563.9 2700.8 L565.5 2697.9 L566.9 2695.4M576.6 2678.8l0.01 0M586.7 2662.6 L588.4 2660.0 L590.3 2657.2 L592.1 2654.5 L594.0 2651.7 L595.9 2649.0 L597.7 2646.2 L599.7 2643.5 L601.6 2640.8 L603.0 2638.8M615.0 2622.7l0.01 0M627.8 2606.5 L629.8 2604.1 L632.0 2601.6 L634.1 2599.1 L636.3 2596.5 L638.5 2594.0 L640.7 2591.5 L642.9 2589.1 L645.1 2586.6 L647.4 2584.1 L648.7 2582.7M664.4 2566.6l0.01 0M680.5 2551.6 L682.9 2549.5 L685.4 2547.3 L687.9 2545.2 L690.5 2543.0 L693.0 2540.9 L695.6 2538.8 L698.2 2536.7 L700.8 2534.6 L703.5 2532.6 L704.3 2531.9M720.5 2520.2l0.01 0M736.8 2509.4 L739.5 2507.7 L742.3 2506.0 L745.2 2504.3 L748.0 2502.6 L750.9 2500.9 L753.8 2499.2 L756.7 2497.6 L759.6 2496.0 L760.2 2495.6M776.6 2486.9l0.01 0M793.7 2478.5 L796.6 2477.1 L799.6 2475.7 L802.6 2474.3 L805.6 2472.9 L808.6 2471.5 L811.7 2470.1 L814.7 2468.7 L815.6 2468.3M832.7 2460.9l0.01 0M850.2 2453.5 L853.2 2452.3 L856.3 2451.1 L859.4 2449.8 L862.5 2448.6 L865.6 2447.4 L868.7 2446.3 L871.3 2445.3M888.8 2439.4l0.01 0M907.1 2434.1 L910.2 2433.3 L913.4 2432.5 L916.6 2431.7 L919.8 2430.9 L923.1 2430.1 L926.3 2429.3 L926.6 2429.2M944.9 2424.9l0.01 0M963.3 2420.6 L966.2 2419.9 L969.5 2419.2 L972.7 2418.4 L975.9 2417.6 L979.2 2416.9 L982.4 2416.2 L982.6 2416.1M1001.0 2412.1l0.01 0M1019.6 2408.3 L1022.8 2407.7 L1026.1 2407.1 L1029.3 2406.5 L1032.6 2405.9 L1035.9 2405.4 L1038.4 2404.9M1057.1 2401.9l0.01 0M1076.0 2399.1 L1079.1 2398.7 L1082.4 2398.2 L1085.7 2397.8 L1089.0 2397.4 L1092.3 2396.9 L1094.3 2396.7M1113.2 2394.2l0.01 0M1132.2 2391.7 L1135.4 2391.3 L1138.7 2390.8 L1142.0 2390.4 L1145.3 2390.0 L1148.6 2389.6 L1150.3 2389.4M1169.3 2387.3l0.01 0M1188.6 2385.6 L1191.6 2385.4 L1194.9 2385.1 L1198.3 2384.9 L1201.6 2384.7 L1204.9 2384.4 L1206.1 2384.4M1225.4 2383.1l0.01 0M1244.7 2381.8 L1247.7 2381.6 L1251.0 2381.3 L1254.4 2381.1 L1257.7 2380.9 L1261.0 2380.7 L1262.2 2380.6M1281.5 2379.3l0.01 0M1300.8 2378.1 L1304.1 2377.9 L1307.4 2377.7 L1310.7 2377.5 L1314.1 2377.3 L1317.4 2377.1 L1318.2 2377.1M1337.6 2376.1l0.01 0M1357.1 2375.3 L1360.3 2375.2 L1363.6 2375.1 L1366.9 2374.9 L1370.2 2374.8 L1373.6 2374.7 L1374.2 2374.7M1393.7 2374.0l0.01 0M1413.2 2373.3 L1416.5 2373.2 L1419.8 2373.1 L1423.1 2373.0 L1426.4 2372.9 L1429.7 2372.8 L1430.3 2372.8M1449.8 2372.2l0.01 0M1469.4 2371.8 L1472.7 2371.7 L1476.0 2371.7 L1479.3 2371.6 L1482.6 2371.6 L1486.0 2371.5 L1486.3 2371.5M1505.9 2371.3l0.01 0M1525.5 2371.1 L1528.6 2371.0 L1531.9 2371.0 L1535.3 2371.0 L1538.6 2370.9 L1541.9 2370.9 L1542.4 2370.9M1562.0 2370.7l0.01 0M1581.6 2370.6 L1584.8 2370.5 L1588.2 2370.5 L1591.5 2370.5 L1594.8 2370.5 L1598.1 2370.5 L1598.4 2370.5M1618.1 2370.4l0.01 0M1637.8 2370.4 L1641.1 2370.4 L1644.4 2370.4 L1647.7 2370.4 L1651.0 2370.4 L1654.3 2370.4 L1654.5 2370.4M1674.2 2370.4l0.01 0" fill="none" stroke="#00ff00" stroke-width="9.35" stroke-linecap="round" stroke-linejoin="round"/>
<text transform="translate(287.67,3124.60) scale(1,1.0700)" font-size="57.50" font-weight="bold" text-anchor="start" fill="#000" stroke="#000" stroke-width="0.9" stroke-linejoin="round" >60</text>
<text transform="translate(287.67,2824.47) scale(1,1.0700)" font-size="57.50" font-weight="bold" text-anchor="start" fill="#000" stroke="#000" stroke-width="0.9" stroke-linejoin="round" >70</text>
<text transform="translate(287.67,2524.35) scale(1,1.0700)" font-size="57.50" font-weight="bold" text-anchor="start" fill="#000" stroke="#000" stroke-width="0.9" stroke-linejoin="round" >80</text>
<text transform="translate(287.67,2224.22) scale(1,1.0700)" font-size="57.50" font-weight="bold" text-anchor="start" fill="#000" stroke="#000" stroke-width="0.9" stroke-linejoin="round" >90</text>
<text transform="translate(255.62,1924.10) scale(1,1.0700)" font-size="57.50" font-weight="bold" text-anchor="start" fill="#000" stroke="#000" stroke-width="0.9" stroke-linejoin="round" >100</text>
<text transform="translate(1765.74,3124.60) scale(1,1.0700)" font-size="57.50" font-weight="bold" text-anchor="start" fill="#000" stroke="#000" stroke-width="0.9" stroke-linejoin="round" >60</text>
<text transform="translate(1765.46,2824.47) scale(1,1.0700)" font-size="57.50" font-weight="bold" text-anchor="start" fill="#000" stroke="#000" stroke-width="0.9" stroke-linejoin="round" >70</text>
<text transform="translate(1766.03,2524.35) scale(1,1.0700)" font-size="57.50" font-weight="bold" text-anchor="start" fill="#000" stroke="#000" stroke-width="0.9" stroke-linejoin="round" >80</text>
<text transform="translate(1765.89,2224.22) scale(1,1.0700)" font-size="57.50" font-weight="bold" text-anchor="start" fill="#000" stroke="#000" stroke-width="0.9" stroke-linejoin="round" >90</text>
<text transform="translate(1765.91,1924.10) scale(1,1.0700)" font-size="57.50" font-weight="bold" text-anchor="start" fill="#000" stroke="#000" stroke-width="0.9" stroke-linejoin="round" >100</text>
<text transform="translate(465.21,3188.98) scale(1,1.0700)" font-size="57.50" font-weight="bold" text-anchor="start" fill="#000" stroke="#000" stroke-width="0.9" stroke-linejoin="round" >40</text>
<text transform="translate(692.90,3188.98) scale(1,1.0700)" font-size="57.50" font-weight="bold" text-anchor="start" fill="#000" stroke="#000" stroke-width="0.9" stroke-linejoin="round" >80</text>
<text transform="translate(902.41,3188.98) scale(1,1.0700)" font-size="57.50" font-weight="bold" text-anchor="start" fill="#000" stroke="#000" stroke-width="0.9" stroke-linejoin="round" >120</text>
<text transform="translate(1127.61,3188.98) scale(1,1.0700)" font-size="57.50" font-weight="bold" text-anchor="start" fill="#000" stroke="#000" stroke-width="0.9" stroke-linejoin="round" >160</text>
<text transform="translate(1353.90,3188.98) scale(1,1.0700)" font-size="57.50" font-weight="bold" text-anchor="start" fill="#000" stroke="#000" stroke-width="0.9" stroke-linejoin="round" >200</text>
<text transform="translate(1579.80,3188.98) scale(1,1.0700)" font-size="57.50" font-weight="bold" text-anchor="start" fill="#000" stroke="#000" stroke-width="0.9" stroke-linejoin="round" >240</text>
<text transform="translate(691.86,3290.80) scale(1,0.9907)" font-size="86.45" font-weight="bold" fill="#000" stroke="#000" stroke-width="0.9" stroke-linejoin="round" >Reaction time, min</text>
<text transform="translate(150.90,2758.30) rotate(-90) scale(1,1.0366)" font-size="86.77" font-weight="bold" fill="#000" stroke="#000" stroke-width="0.9" stroke-linejoin="round" >Selectivity(%)</text>
<text transform="translate(2008.90,2677.38) rotate(-90) scale(1,0.9640)" font-size="90.29" font-weight="bold" fill="#000" stroke="#000" stroke-width="0.9" stroke-linejoin="round" >Yield(%)</text>
<text transform="translate(69.07,1858.40) scale(1,0.9943)" font-size="86.52" font-weight="bold" fill="#000" stroke="#000" stroke-width="0.9" stroke-linejoin="round" >(B)</text>
<text transform="translate(461.28,2004.80) scale(1,1.0119)" font-size="51.85" font-weight="bold" fill="#636363" stroke="#636363" stroke-width="0.9" stroke-linejoin="round" >Temperature, 250</text>
<text transform="translate(902.21,1978.58) scale(1,1.0024)" font-size="42.16" font-weight="bold" fill="#636363" stroke="#636363" stroke-width="0.9" stroke-linejoin="round" >O</text>
<text transform="translate(933.18,2004.80) scale(1,1.0371)" font-size="52.98" font-weight="bold" fill="#636363" stroke="#636363" stroke-width="0.9" stroke-linejoin="round" >C</text>
<rect x="1238.2" y="1928.5" width="105.6" height="39.0" fill="#fff"/>
<rect x="1238.2" y="1928.5" width="105.6" height="39.0" fill="#0000ff" stroke="#000" stroke-width="4.1" stroke-linejoin="round"/>
<text transform="translate(1360.17,1962.30) scale(1,0.9041)" font-size="53.73" font-weight="normal" fill="#000" stroke="#000" stroke-width="0.5" stroke-linejoin="round" >Benzene</text>
<rect x="1238.2" y="1994.8" width="105.6" height="39.4" fill="#fff"/>
<rect x="1238.2" y="1994.8" width="105.6" height="39.4" fill="#000" stroke="#000" stroke-width="4.1" stroke-linejoin="round"/>
<text transform="translate(1363.33,2029.20) scale(1,0.9113)" font-size="53.31" font-weight="normal" fill="#000" stroke="#000" stroke-width="0.5" stroke-linejoin="round" >Cyclohexane</text>
<rect x="1238.2" y="2061.2" width="105.6" height="39.4" fill="#fff"/>
<rect x="1238.2" y="2061.2" width="105.6" height="39.4" fill="#ff0000" stroke="#000" stroke-width="4.1" stroke-linejoin="round"/>
<text transform="translate(1363.33,2095.80) scale(1,0.9106)" font-size="53.35" font-weight="normal" fill="#000" stroke="#000" stroke-width="0.5" stroke-linejoin="round" >Cyclohexanone</text>
<rect x="1238.2" y="2128.2" width="105.6" height="39.3" fill="#fff"/>
<rect x="1238.2" y="2128.2" width="105.6" height="39.3" fill="url(#hatchBL)" stroke="#000" stroke-width="4.1" stroke-linejoin="round"/>
<text transform="translate(1363.33,2162.30) scale(1,0.9086)" font-size="53.47" font-weight="normal" fill="#000" stroke="#000" stroke-width="0.5" stroke-linejoin="round" >Cyclohexanol</text>
<circle cx="1303.2" cy="2218.8" r="23.4" fill="#00ff00"/>
<circle cx="1296.0" cy="2211.9" r="12.2" fill="#00ff66"/>
<circle cx="1296.0" cy="2211.9" r="8.1" fill="#8cffb4"/>
<circle cx="1296.0" cy="2211.9" r="4.4" fill="#f4fff4"/>
<text transform="translate(1379.59,2235.00) scale(1,0.8791)" font-size="54.00" font-weight="normal" fill="#000" stroke="#000" stroke-width="0.5" stroke-linejoin="round" >Yield</text>
</svg>
</body></html>
